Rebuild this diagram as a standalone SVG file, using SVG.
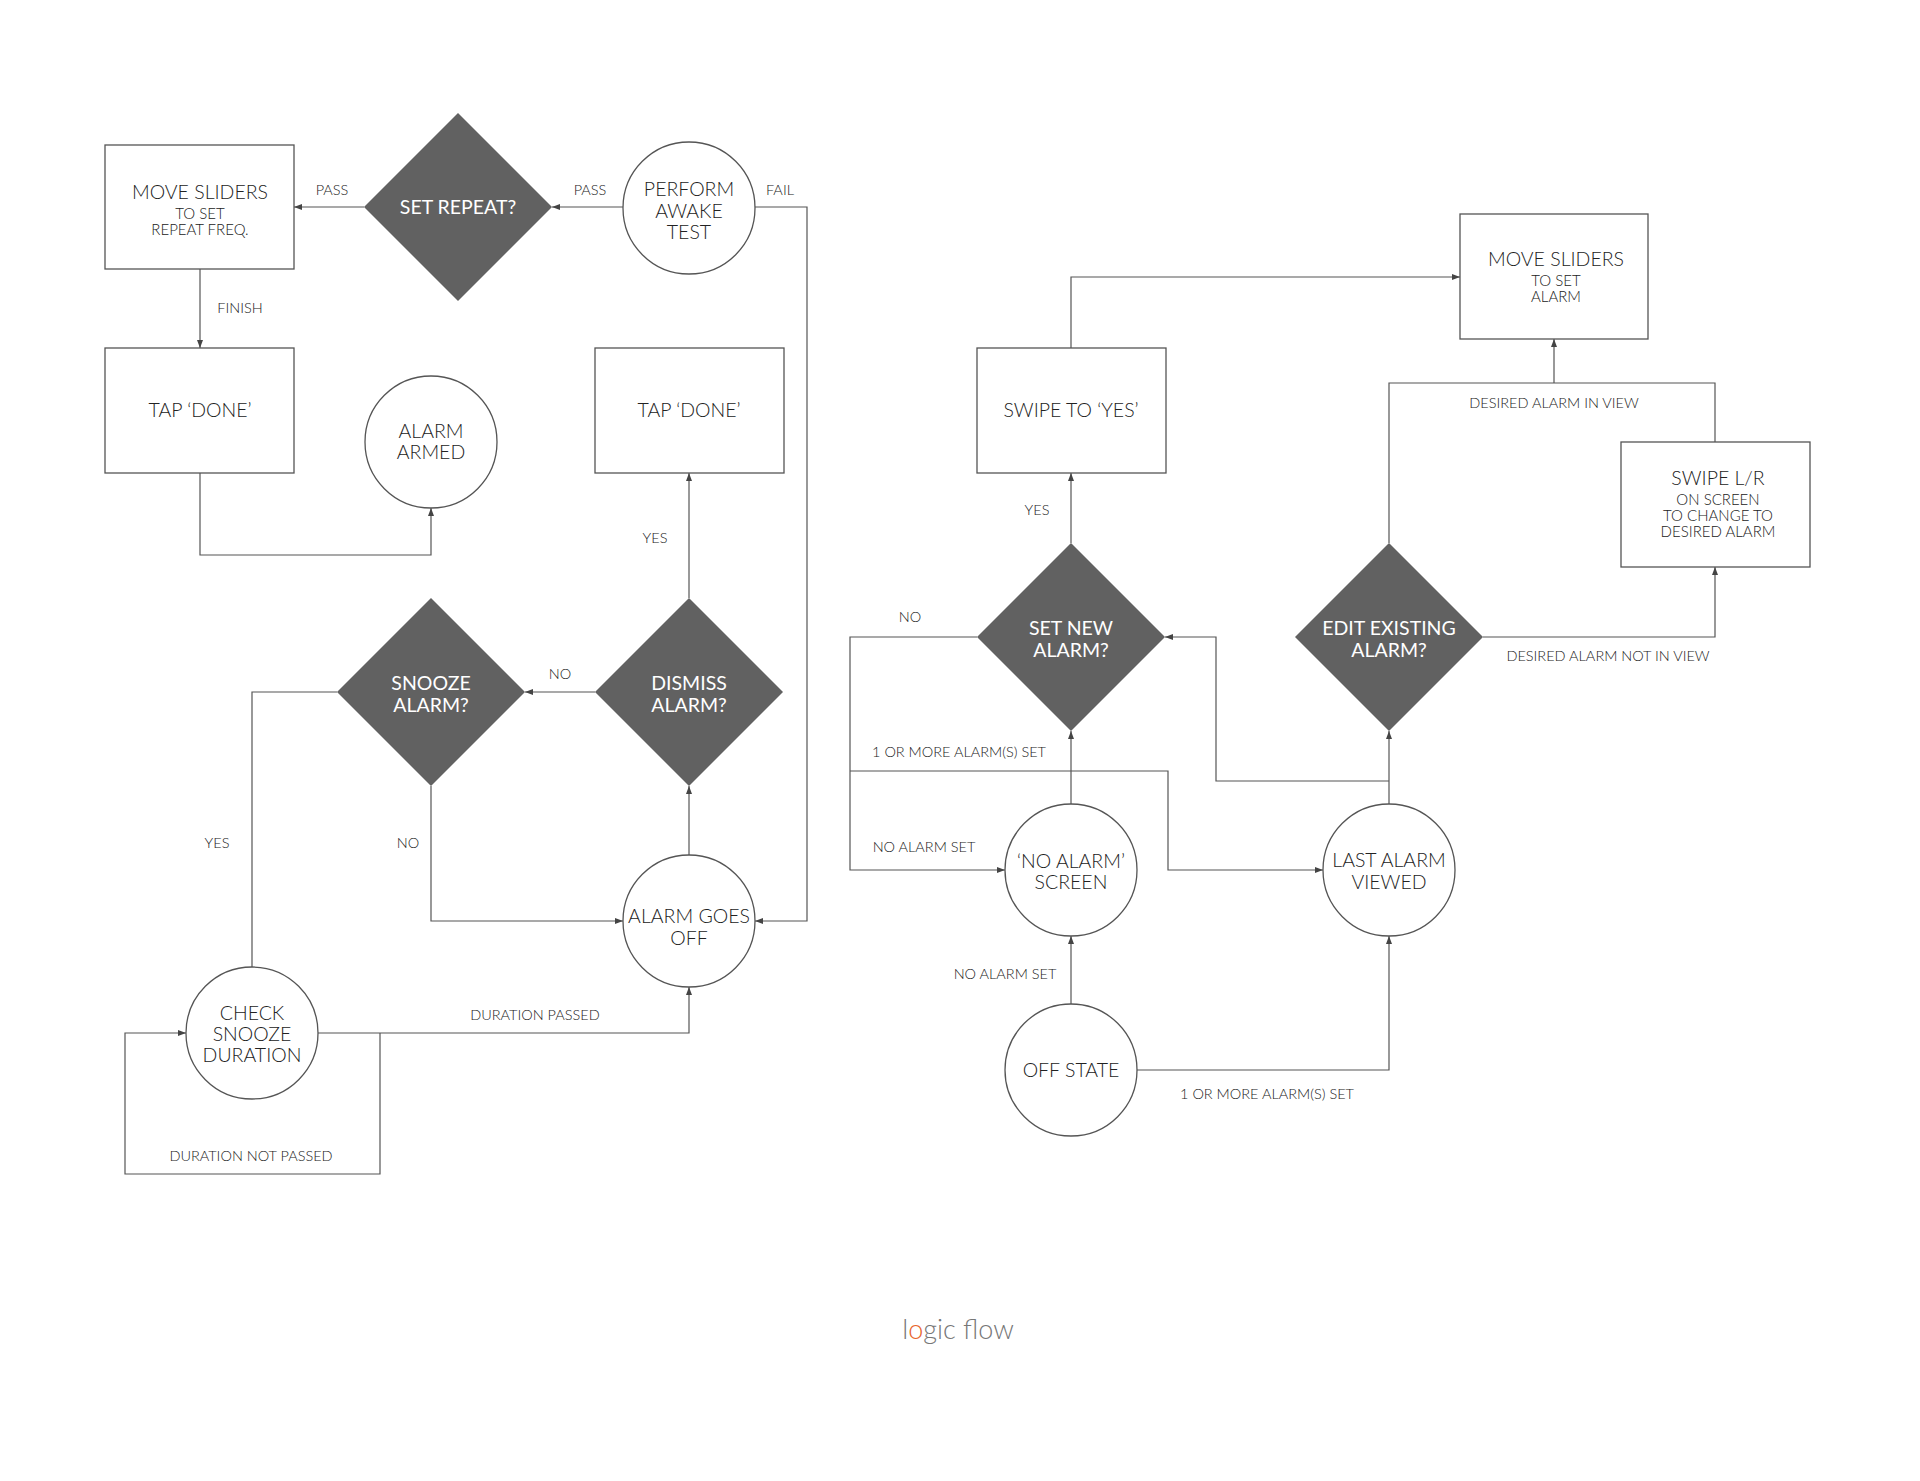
<svg xmlns="http://www.w3.org/2000/svg" width="1920" height="1481" viewBox="0 0 1920 1481">
<defs>
<marker id="arr" markerWidth="8" markerHeight="6" refX="8" refY="3" orient="auto" markerUnits="userSpaceOnUse">
<path d="M0,0 L8,3 L0,6 z" fill="#444"/>
</marker>
<style>
.box{fill:#fff;stroke:#555;stroke-width:1.3}
.circ{fill:#fff;stroke:#555;stroke-width:1.3}
.dia{fill:#616161;stroke:none}
.t{font-family:Lato,"Liberation Sans",sans-serif;font-weight:300;font-size:19.5px;fill:#222;text-anchor:middle}
.s{font-family:Lato,"Liberation Sans",sans-serif;font-weight:300;font-size:15px;fill:#222;text-anchor:middle}
.w{fill:#fff;font-weight:400}
.c{fill:none;stroke:#555;stroke-width:1.2}
.a{marker-end:url(#arr)}
.l{font-family:Lato,"Liberation Sans",sans-serif;font-weight:300;font-size:14.5px;fill:#222;text-anchor:middle}
</style>
</defs>
<rect width="1920" height="1481" fill="#fff"/>

<g id="connectors">
<path class="c a" d="M623,207 H552"/>
<path class="c a" d="M364,207 H294"/>
<path class="c a" d="M755,207 H807 V921 H755"/>
<path class="c a" d="M200,269 V348"/>
<path class="c a" d="M200,473 V555 H431 V508"/>
<path class="c a" d="M689,598 V473"/>
<path class="c a" d="M595,692 H525"/>
<path class="c" d="M337,692 H252 V967"/>
<path class="c a" d="M431,786 V921 H623"/>
<path class="c a" d="M689,855 V786"/>
<path class="c a" d="M318,1033 H689 V987"/>
<path class="c a" d="M380,1033 V1174 H125 V1033 H186"/>

<path class="c a" d="M1071,348 V277 H1460"/>
<path class="c a" d="M1071,543 V473"/>
<path class="c a" d="M977,637 H850 V870 H1005"/>
<path class="c a" d="M1071,804 V731"/>
<path class="c a" d="M850,771 H1168 V870 H1323"/>
<path class="c a" d="M1389,804 V731"/>
<path class="c a" d="M1389,781 H1216 V637 H1165"/>
<path class="c" d="M1389,543 V383 H1715 V442"/>
<path class="c a" d="M1554,383 V339"/>
<path class="c a" d="M1483,637 H1715 V567"/>
<path class="c a" d="M1071,1004 V936"/>
<path class="c a" d="M1137,1070 H1389 V936"/>

<text class="l" x="332" y="195">PASS</text>
<text class="l" x="590" y="195">PASS</text>
<text class="l" x="780" y="195">FAIL</text>
<text class="l" x="240" y="313">FINISH</text>
<text class="l" x="655" y="543">YES</text>
<text class="l" x="560" y="679">NO</text>
<text class="l" x="217" y="848">YES</text>
<text class="l" x="408" y="848">NO</text>
<text class="l" x="535" y="1020">DURATION PASSED</text>
<text class="l" x="251" y="1161">DURATION NOT PASSED</text>
<text class="l" x="1037" y="515">YES</text>
<text class="l" x="910" y="622">NO</text>
<text class="l" x="1554" y="408">DESIRED ALARM IN VIEW</text>
<text class="l" x="1608" y="661">DESIRED ALARM NOT IN VIEW</text>
<text class="l" x="959" y="757">1 OR MORE ALARM(S) SET</text>
<text class="l" x="924" y="852">NO ALARM SET</text>
<text class="l" x="1005" y="979">NO ALARM SET</text>
<text class="l" x="1267" y="1099">1 OR MORE ALARM(S) SET</text>
</g>

<g id="move-sliders-repeat">
<rect class="box" x="105" y="145" width="189" height="124"/>
<text class="t" x="200" y="199">MOVE SLIDERS</text>
<text class="s" x="200" y="219">TO SET</text>
<text class="s" x="200" y="235">REPEAT FREQ.</text>
</g>
<g id="set-repeat">
<polygon class="dia" points="458,113 552,207 458,301 364,207"/>
<text class="t w" x="458" y="214">SET REPEAT?</text>
</g>
<g id="perform-awake-test">
<circle class="circ" cx="689" cy="208" r="66"/>
<text class="t" x="689" y="196">PERFORM</text>
<text class="t" x="689" y="218">AWAKE</text>
<text class="t" x="689" y="239">TEST</text>
</g>
<g id="tap-done-left">
<rect class="box" x="105" y="348" width="189" height="125"/>
<text class="t" x="200" y="417">TAP ‘DONE’</text>
</g>
<g id="alarm-armed">
<circle class="circ" cx="431" cy="442" r="66"/>
<text class="t" x="431" y="438">ALARM</text>
<text class="t" x="431" y="459">ARMED</text>
</g>
<g id="tap-done-right">
<rect class="box" x="595" y="348" width="189" height="125"/>
<text class="t" x="689" y="417">TAP ‘DONE’</text>
</g>
<g id="snooze-alarm">
<polygon class="dia" points="431,598 525,692 431,786 337,692"/>
<text class="t w" x="431" y="690">SNOOZE</text>
<text class="t w" x="431" y="712">ALARM?</text>
</g>
<g id="dismiss-alarm">
<polygon class="dia" points="689,598 783,692 689,786 595,692"/>
<text class="t w" x="689" y="690">DISMISS</text>
<text class="t w" x="689" y="712">ALARM?</text>
</g>
<g id="alarm-goes-off">
<circle class="circ" cx="689" cy="921" r="66"/>
<text class="t" x="689" y="923">ALARM GOES</text>
<text class="t" x="689" y="945">OFF</text>
</g>
<g id="check-snooze">
<circle class="circ" cx="252" cy="1033" r="66"/>
<text class="t" x="252" y="1020">CHECK</text>
<text class="t" x="252" y="1041">SNOOZE</text>
<text class="t" x="252" y="1062">DURATION</text>
</g>

<g id="move-sliders-alarm">
<rect class="box" x="1460" y="214" width="188" height="125"/>
<text class="t" x="1556" y="266">MOVE SLIDERS</text>
<text class="s" x="1556" y="286">TO SET</text>
<text class="s" x="1556" y="302">ALARM</text>
</g>
<g id="swipe-yes">
<rect class="box" x="977" y="348" width="189" height="125"/>
<text class="t" x="1071" y="417">SWIPE TO ‘YES’</text>
</g>
<g id="swipe-lr">
<rect class="box" x="1621" y="442" width="189" height="125"/>
<text class="t" x="1718" y="485">SWIPE L/R</text>
<text class="s" x="1718" y="505">ON SCREEN</text>
<text class="s" x="1718" y="521">TO CHANGE TO</text>
<text class="s" x="1718" y="537">DESIRED ALARM</text>
</g>
<g id="set-new-alarm">
<polygon class="dia" points="1071,543 1165,637 1071,731 977,637"/>
<text class="t w" x="1071" y="635">SET NEW</text>
<text class="t w" x="1071" y="657">ALARM?</text>
</g>
<g id="edit-existing-alarm">
<polygon class="dia" points="1389,543 1483,637 1389,731 1295,637"/>
<text class="t w" x="1389" y="635">EDIT EXISTING</text>
<text class="t w" x="1389" y="657">ALARM?</text>
</g>
<g id="no-alarm-screen">
<circle class="circ" cx="1071" cy="870" r="66"/>
<text class="t" x="1071" y="868">‘NO ALARM’</text>
<text class="t" x="1071" y="889">SCREEN</text>
</g>
<g id="last-alarm-viewed">
<circle class="circ" cx="1389" cy="870" r="66"/>
<text class="t" x="1389" y="867">LAST ALARM</text>
<text class="t" x="1389" y="889">VIEWED</text>
</g>
<g id="off-state">
<circle class="circ" cx="1071" cy="1070" r="66"/>
<text class="t" x="1071" y="1077">OFF STATE</text>
</g>

<text x="958" y="1339" font-family="Lato,'Liberation Sans',sans-serif" font-weight="300" font-size="27" text-anchor="middle" fill="#777">l<tspan fill="#e8652c">o</tspan>gic flow</text>
</svg>
